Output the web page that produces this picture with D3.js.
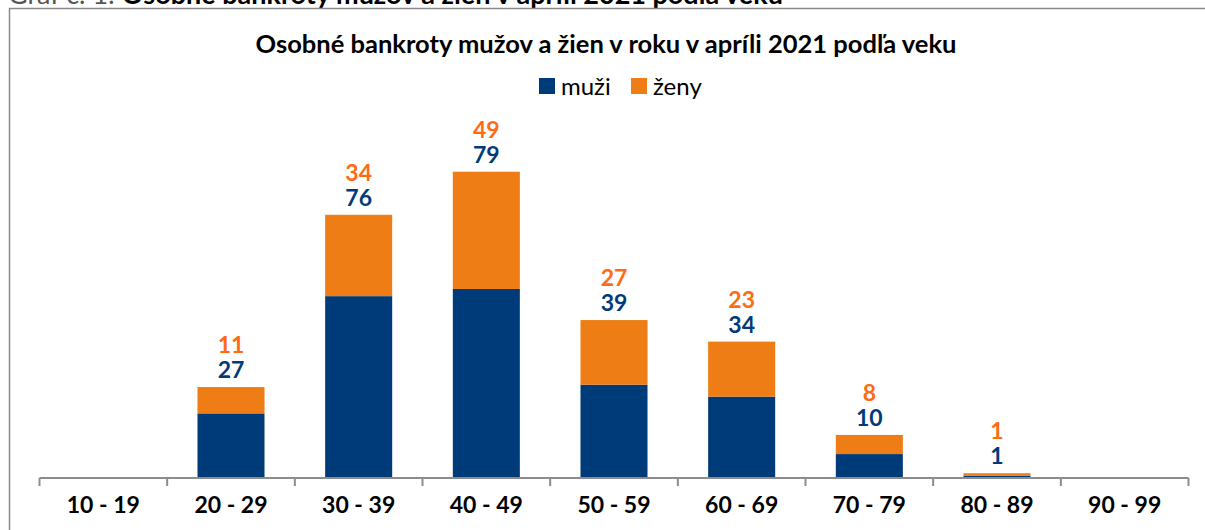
<!DOCTYPE html>
<html>
<head>
<meta charset="utf-8">
<script src="https://cdn.jsdelivr.net/npm/d3@7"></script>
<style>
  body { margin: 0; background: #fff; }
  svg { display: block; font-family: Lato, "Open Sans", sans-serif; }
</style>
</head>
<body>
<svg id="chart" width="1205" height="530"></svg>
<script>
// vekové skupiny a počty bankrotov
const categories = ['10 - 19', '20 - 29', '30 - 39', '40 - 49', '50 - 59', '60 - 69', '70 - 79', '80 - 89', '90 - 99'];
const muzi = [0, 27, 76, 79, 39, 34, 10, 1, 0];
const zeny = [0, 11, 34, 49, 27, 23, 8, 1, 0];
const seriesNames = ['muži', 'ženy'];

const colBlue = '#003b79';
const colOrange = '#ed7d14';
const colOrangeText = '#ff6a13';

const svg = d3.select('#chart');
const width = +svg.attr('width');

// hlavička nad rámom (v origináli odrezaná)
const head = svg.append('text')
  .attr('x', 8).attr('y', 4)
  .attr('font-size', 27)
  .attr('fill', '#555');
head.append('tspan').text('Graf č. 1: ');
head.append('tspan').attr('font-weight', 'bold').attr('fill', '#000')
  .text('Osobné bankroty mužov a žien v apríli 2021 podľa veku');

// rám grafu
svg.append('path')
  .attr('d', `M9.5,${540} L9.5,8.5 L${width + 5},8.5`)
  .attr('fill', 'none')
  .attr('stroke', '#8a8a8a')
  .attr('stroke-width', 1.5);

svg.append('text')
  .attr('x', 606).attr('y', 53)
  .attr('text-anchor', 'middle')
  .attr('font-size', 25.5)
  .attr('font-weight', 'bold')
  .attr('fill', '#000')
  .text('Osobné bankroty mužov a žien v roku v apríli 2021 podľa veku');

// legenda
const legend = svg.append('g');
const legendItems = [
  {name: seriesNames[0], color: colBlue, x: 539},
  {name: seriesNames[1], color: colOrange, x: 631}
];
legendItems.forEach(it => {
  legend.append('rect')
    .attr('x', it.x).attr('y', 78)
    .attr('width', 16).attr('height', 16)
    .attr('fill', it.color);
  legend.append('text')
    .attr('x', it.x + 22).attr('y', 95)
    .attr('font-size', 24)
    .attr('fill', '#000')
    .text(it.name);
});

const x = d3.scaleBand()
  .domain(categories)
  .range([39.5, 1188.5])
  .paddingInner(0.475)
  .paddingOuter(0.2375);

const y = d3.scaleLinear()
  .domain([0, 140])
  .range([478, 143]);

const data = categories.map((c, i) => ({cat: c, m: muzi[i], z: zeny[i]}));

const bars = svg.append('g');
bars.selectAll('rect.m')
  .data(data)
  .join('rect')
  .attr('class', 'm')
  .attr('x', d => x(d.cat))
  .attr('width', x.bandwidth())
  .attr('y', d => y(d.m))
  .attr('height', d => y(0) - y(d.m))
  .attr('fill', colBlue);

bars.selectAll('rect.z')
  .data(data)
  .join('rect')
  .attr('class', 'z')
  .attr('x', d => x(d.cat))
  .attr('width', x.bandwidth())
  .attr('y', d => y(d.m + d.z))
  .attr('height', d => y(d.m) - y(d.m + d.z))
  .attr('fill', colOrange);

// popisky hodnôt
const lbl = svg.append('g')
  .attr('text-anchor', 'middle')
  .attr('font-weight', 'bold')
  .attr('font-size', 23);

const withVals = data.filter(d => d.m + d.z > 0);
lbl.selectAll('text.m')
  .data(withVals)
  .join('text')
  .attr('x', d => x(d.cat) + x.bandwidth() / 2)
  .attr('y', d => y(d.m + d.z) - 9)
  .attr('fill', colBlue)
  .text(d => d.m);

lbl.selectAll('text.z')
  .data(withVals)
  .join('text')
  .attr('x', d => x(d.cat) + x.bandwidth() / 2)
  .attr('y', d => y(d.m + d.z) - 34)
  .attr('fill', colOrangeText)
  .text(d => d.z);

// os x
const xAxis = d3.axisBottom(x).tickSize(0).tickSizeOuter(0);
const ax = svg.append('g')
  .attr('transform', `translate(0,${y(0)})`)
  .call(xAxis);
ax.select('.domain').remove();
ax.selectAll('text')
  .attr('dy', 0)
  .attr('y', 35)
  .attr('font-size', 23)
  .attr('font-weight', 'bold')
  .attr('font-family', 'Lato, sans-serif')
  .attr('fill', '#000');

const step = x.step();
const tickX = d3.range(categories.length + 1).map(i => 39.5 + i * step);
ax.append('line')
  .attr('x1', tickX[0]).attr('x2', tickX[tickX.length - 1])
  .attr('y1', 0).attr('y2', 0)
  .attr('stroke', '#8c8c8c').attr('stroke-width', 2);
ax.selectAll('line.t')
  .data(tickX)
  .join('line')
  .attr('class', 't')
  .attr('x1', d => d).attr('x2', d => d)
  .attr('y1', 0).attr('y2', 8)
  .attr('stroke', '#8c8c8c').attr('stroke-width', 2);
</script>
</body>
</html>
